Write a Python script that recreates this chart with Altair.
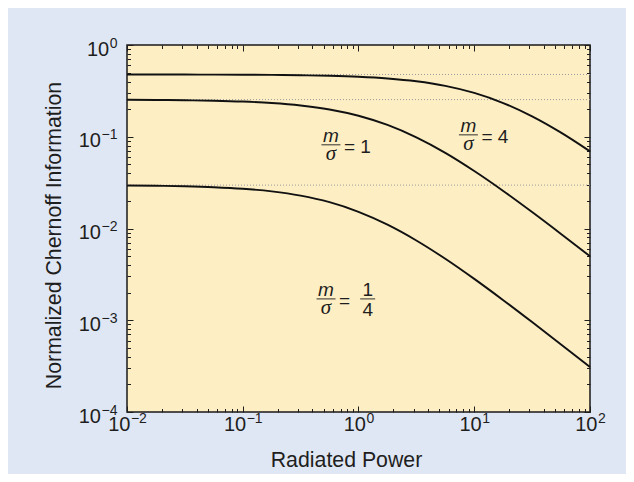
import altair as alt
import pandas as pd

# ---- data ----
power = [0.01, 0.0178, 0.0316, 0.0562, 0.1, 0.178, 0.316, 0.562, 1, 1.78,
         3.16, 5.62, 10, 17.8, 31.6, 56.2, 100]
info_m4 = [0.4767, 0.4765, 0.4761, 0.4754, 0.4742, 0.4721, 0.4683, 0.4617, 0.4505,
           0.4318, 0.4022, 0.3584, 0.3003, 0.2330, 0.1668, 0.1108, 0.0693]
info_m1 = [0.2527, 0.2518, 0.2501, 0.2471, 0.2419, 0.2332, 0.2193, 0.1983, 0.1693,
           0.1344, 0.0984, 0.0667, 0.0423, 0.02566, 0.01512, 0.00873, 0.00498]
info_m14 = [0.02942, 0.02920, 0.02883, 0.02819, 0.02712, 0.02540, 0.02283, 0.01935,
            0.01521, 0.01102, 0.00741, 0.00468, 0.002823, 0.001655, 0.000955,
            0.000545, 0.000309]
asymptotes = [0.477, 0.254, 0.0297]

ann_x = [0.578, 8.9, 0.524]
ann_y = [0.0818, 0.105, 0.00171]
ann_rhs = ["= 1", "= 4", "="]
quarter_x = [1.2]
quarter_y = [0.00171]

x_major = [0.01, 0.1, 1, 10, 100]
y_major = [1e-4, 1e-3, 1e-2, 1e-1, 1]
x_ticks = [k * 10.0 ** d for d in range(-2, 2) for k in range(1, 10)] + [100]
y_ticks = [k * 10.0 ** d for d in range(-4, 0) for k in range(1, 10)] + [1]

# ---- tables ----
lines = pd.DataFrame({
    "power": power * 3,
    "info": info_m4 + info_m1 + info_m14,
    "series": ["4"] * len(power) + ["1"] * len(power) + ["1/4"] * len(power),
})
asym = pd.DataFrame({"y": asymptotes})
ann = pd.DataFrame({"x": ann_x, "y": ann_y, "rhs": ann_rhs})
quarter = pd.DataFrame({"x": quarter_x, "y": quarter_y})

FONT = "Liberation Sans"
INK = "#1e1e1e"
W, H = 463, 367

xs = alt.Scale(type="log", domain=[0.01, 100], nice=False)
ys = alt.Scale(type="log", domain=[1e-4, 1], nice=False)

exp_expr = ("datum.value < 0.0005 ? '\u22124' : datum.value < 0.005 ? '\u22123' : "
            "datum.value < 0.05 ? '\u22122' : datum.value < 0.5 ? '\u22121' : "
            "datum.value < 5 ? '0' : datum.value < 50 ? '1' : '2'")
NEG = "datum.value < 0.5"


def cond(pos_neg, pos_other):
    return {"condition": {"test": NEG, "value": pos_neg}, "value": pos_other}


is_major = "abs(log(datum.value)/LN10 - round(log(datum.value)/LN10)) < 0.001"
tick_size = {"condition": {"test": is_major, "value": 6}, "value": 3.5}


def tick_axis(orient, values, offset):
    return alt.Axis(orient=orient, values=values, offset=offset, labels=False,
                    domain=False, grid=False, ticks=True, tickSize=tick_size,
                    tickColor=INK, tickWidth=1, title="")


# "10" part of the tick labels (with axis titles)
x_base_axis = alt.Axis(orient="bottom", values=x_major, labelExpr="'10'",
                       ticks=False, domain=False, grid=False,
                       labelFontSize=20, labelColor=INK, labelAlign="center",
                       labelBaseline="alphabetic", labelPadding=18,
                       labelOffset=cond(-8.25, -4.15), labelFlush=False,
                       title="Radiated Power", titleFontSize=21.3,
                       titleFontWeight="normal", titleColor=INK,
                       titleBaseline="alphabetic", titleX=219, titleY=54)
y_base_axis = alt.Axis(orient="left", values=y_major, labelExpr="'10'",
                       ticks=False, domain=False, grid=False,
                       labelFontSize=20, labelColor=INK, labelAlign="right",
                       labelBaseline="alphabetic", labelOffset=10,
                       labelPadding=cond(26.5, 18.3), labelFlush=False,
                       title="Normalized Chernoff Information", titleFontSize=21.3,
                       titleFontWeight="normal", titleColor=INK,
                       titleBaseline="alphabetic", titleX=-67, titleY=190)
# exponent part of the tick labels
x_exp_axis = alt.Axis(orient="bottom", values=x_major, labelExpr=exp_expr,
                      ticks=False, domain=False, grid=False,
                      labelFontSize=14, labelColor=INK, labelAlign="left",
                      labelBaseline="alphabetic", labelPadding=10,
                      labelOffset=cond(3.4, 7.5), labelFlush=False, title="")
y_exp_axis = alt.Axis(orient="left", values=y_major, labelExpr=exp_expr,
                      ticks=False, domain=False, grid=False,
                      labelFontSize=14, labelColor=INK, labelAlign="right",
                      labelBaseline="alphabetic", labelOffset=2,
                      labelPadding=10, labelFlush=False, title="")

rules = alt.Chart(asym).mark_rule(color="#9a9a9a", strokeDash=[1, 2], strokeWidth=1).encode(
    y=alt.Y("y:Q", scale=ys, axis=None)
)

curves = alt.Chart(lines).mark_line(color="#111111", strokeWidth=1.9, interpolate="monotone").encode(
    x=alt.X("power:Q", scale=xs, axis=x_base_axis),
    y=alt.Y("info:Q", scale=ys, axis=y_base_axis),
    detail="series:N",
)

numer = alt.Chart(ann).mark_text(text="m", font=FONT, fontStyle="italic", fontSize=19,
                                 baseline="alphabetic", dy=-3, color=INK).encode(
    x=alt.X("x:Q", scale=xs, axis=tick_axis("top", x_ticks, -H)),
    y=alt.Y("y:Q", scale=ys, axis=tick_axis("right", y_ticks, -W)),
)

denom = alt.Chart(ann).mark_text(text="\u03c3", font="Liberation Serif", fontStyle="italic",
                                 fontSize=21, baseline="alphabetic", dy=15, color=INK).encode(
    x=alt.X("x:Q", scale=xs, axis=tick_axis("bottom", x_ticks, -H)),
    y=alt.Y("y:Q", scale=ys, axis=tick_axis("left", y_ticks, -W)),
)

bars = alt.Chart(ann).mark_tick(orient="horizontal", size=19, thickness=1.3, color=INK).encode(
    x=alt.X("x:Q", scale=xs, axis=None),
    y=alt.Y("y:Q", scale=ys, axis=None),
)

rhs = alt.Chart(ann).mark_text(font=FONT, fontSize=19, align="left", baseline="middle",
                               dx=13, dy=2, color=INK).encode(
    x=alt.X("x:Q", scale=xs, axis=x_exp_axis),
    y=alt.Y("y:Q", scale=ys, axis=y_exp_axis),
    text="rhs:N",
)

q_bar = alt.Chart(quarter).mark_tick(orient="horizontal", size=15, thickness=1.3, color=INK).encode(
    x=alt.X("x:Q", scale=xs, axis=None),
    y=alt.Y("y:Q", scale=ys, axis=None),
)
q_num = alt.Chart(quarter).mark_text(text="1", font=FONT, fontSize=19, baseline="alphabetic",
                                     dy=-3, color=INK).encode(
    x=alt.X("x:Q", scale=xs, axis=None),
    y=alt.Y("y:Q", scale=ys, axis=None),
)
q_den = alt.Chart(quarter).mark_text(text="4", font=FONT, fontSize=19, baseline="alphabetic",
                                     dy=17, color=INK).encode(
    x=alt.X("x:Q", scale=xs, axis=None),
    y=alt.Y("y:Q", scale=ys, axis=None),
)

chart = alt.layer(rules, curves, numer, denom, bars, rhs, q_bar, q_num, q_den).resolve_axis(
    x="independent", y="independent"
).properties(
    width=W, height=H,
    autosize=alt.AutoSizeParams(type="none"),
    padding={"left": 119, "top": 37, "right": 36, "bottom": 62},
).configure(
    background="#e0e7f4", font=FONT,
).configure_view(
    fill="#fdeec4", stroke="#1a1a1a", strokeWidth=1.5,
).configure_axis(
    labelFont=FONT, titleFont=FONT,
)

chart.save("out.html", embed_options={"renderer": "svg", "actions": False})
